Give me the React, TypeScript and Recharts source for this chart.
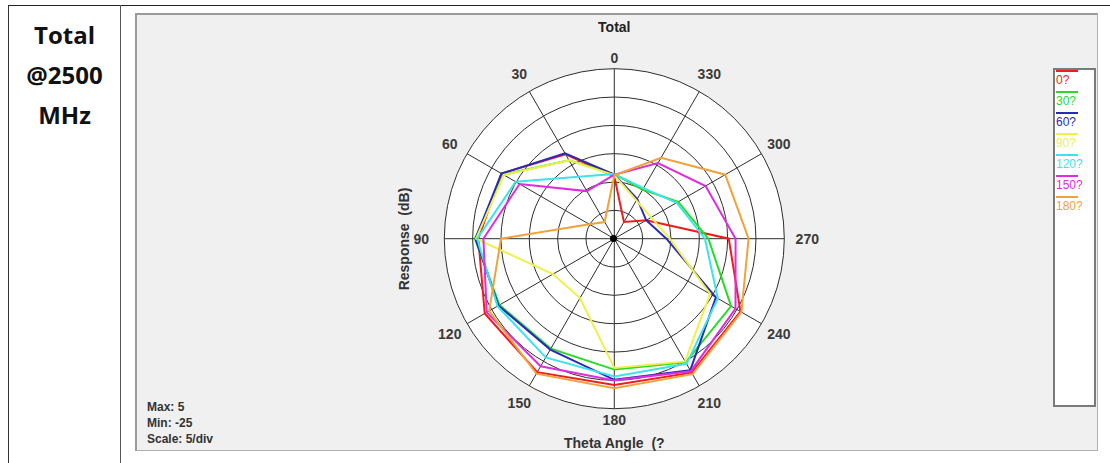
import React from "react";
import { RadarChart, Radar, PolarGrid, PolarAngleAxis, PolarRadiusAxis, Legend } from "recharts";

// theta angles, counter-clockwise from the top
const thetaLabels = ["0", "30", "60", "90", "120", "150", "180", "210", "240", "270", "300", "330"];

// one cut per phi angle, dB
const phi0 = [-14.0, -7.8, -2.0, -1.0, 1.4, 2.2, 0.8, 2.3, 0.7, -4.8, -18.5, -21.6];
const phi30 = [-13.6, -9.0, -2.4, -0.4, -1.6, -2.6, -1.9, 0.2, -1.2, -8.4, -12.0, -15.0];
const phi60 = [-13.7, -7.6, -2.0, -0.5, -1.4, -2.4, -0.1, 1.8, -4.3, -15.8, -18.5, -16.9];
const phi90 = [-13.8, -9.0, -2.5, -0.6, -12.5, -12.9, -2.2, 0.0, -5.5, -15.2, -17.5, -17.2];
const phi120 = [-13.6, -12.4, -4.9, -0.8, -1.2, -0.8, -0.7, 0.5, -3.9, -9.0, -12.3, -14.7];
const phi150 = [-13.7, -15.3, -5.7, -1.9, 1.0, 1.0, 0.0, 2.0, -0.3, -3.6, -6.4, -9.6];
const phi180 = [-13.8, -21.6, -19.9, -5.0, 0.5, 2.5, 1.4, 2.6, 0.9, -1.3, -2.4, -8.5];

const phiNames = ["0?", "30?", "60?", "90?", "120?", "150?", "180?"];
const phiColors = ["#f01c1c", "#26dc26", "#2a2ab8", "#f0f04a", "#3ce4ea", "#dc2edc", "#f0a23c"];
const phiSeries = [phi0, phi30, phi60, phi90, phi120, phi150, phi180];

// radar runs clockwise from the top, theta runs counter-clockwise: 0, 330, 300 ... 30
const order = thetaLabels.map((_, j) => (j === 0 ? 0 : thetaLabels.length - j));
const rows = order.map((i) => {
  const row: Record<string, string | number> = { theta: thetaLabels[i] };
  phiSeries.forEach((s, k) => {
    row[`p${k}`] = s[i];
  });
  return row;
});

const LEFT = 135;
const TOP = 13;
const W = 963;
const H = 438;
const CX = 479.3;
const CY = 225.7;
const R = 170;

const font = "'Liberation Sans', Arial, sans-serif";

// label placed from its own theta value (0 at top, counter-clockwise)
function AngleTick(props: any) {
  const { payload } = props;
  const a = (Number(payload.value) * Math.PI) / 180;
  const ux = -Math.sin(a);
  const uy = -Math.cos(a);
  let r = 190;
  if (Math.abs(ux) < 0.05) r = 181;
  if (Math.abs(uy) < 0.05) r = 193;
  return (
    <text
      x={CX + ux * r}
      y={CY + uy * r}
      textAnchor="middle"
      dominantBaseline="central"
      fontSize={14}
      fontWeight="bold"
      fontFamily={font}
      fill="#3a3a3a"
    >
      {payload.value}
    </text>
  );
}

function PhiLegend() {
  return (
    <div style={{ width: 43, height: 339, background: "#fff", border: "2px solid #7a7a7a", boxSizing: "border-box", position: "relative" }}>
      {phiNames.map((n, i) => (
        <div key={n} style={{ position: "absolute", left: 1, top: 21 * i }}>
          <div style={{ height: 2, width: 22, background: phiColors[i] }} />
          <div style={{ color: phiColors[i], fontSize: 12, lineHeight: "13px", fontFamily: font, marginTop: 2 }}>{n}</div>
        </div>
      ))}
    </div>
  );
}

const abs = (o: React.CSSProperties): React.CSSProperties => ({ position: "absolute", ...o });

export default function App() {
  return (
    <div style={abs({ left: 0, top: 0, width: 1110, height: 463, background: "#fff", overflow: "hidden" })}>
      {/* table lines */}
      <div style={abs({ left: 8, top: 5, width: 1102, height: 1, background: "#222" })} />
      <div style={abs({ left: 8, top: 5, width: 1, height: 458, background: "#333" })} />
      <div style={abs({ left: 120, top: 5, width: 1, height: 458, background: "#555" })} />

      {["Total", "@2500", "MHz"].map((t, i) => (
        <div
          key={t}
          style={abs({ left: 9, width: 111, top: 19 + 40 * i, textAlign: "center", fontFamily: "'Open Sans', sans-serif", fontWeight: 700, fontSize: 24, lineHeight: "32px", color: "#111" })}
        >
          {t}
        </div>
      ))}

      {/* chart panel */}
      <div style={abs({ left: LEFT, top: TOP, width: W, height: H, background: "#f0f0f0", boxSizing: "border-box", borderTop: "2px solid #9a9a9a", borderLeft: "2px solid #9a9a9a", borderRight: "1px solid #b0b0b0", borderBottom: "1px solid #b0b0b0" })} />
      <div style={abs({ left: LEFT + CX - R, top: TOP + CY - R, width: 2 * R, height: 2 * R, borderRadius: "50%", background: "#fff" })} />

      <div style={abs({ left: LEFT, top: TOP, width: W, height: H })}>
        <RadarChart
          width={W}
          height={H}
          data={rows}
          cx={CX}
          cy={CY}
          outerRadius={R}
          margin={{ top: 0, right: 0, bottom: 0, left: 0 }}
        >
          <PolarGrid gridType="circle" stroke="#2e2e2e" strokeWidth={1} />
          <PolarAngleAxis dataKey="theta" tickLine={false} tickSize={12} axisLine={false} tick={<AngleTick />} />
          <PolarRadiusAxis type="number" domain={[-25, 5]} tickCount={7} tick={false} axisLine={false} />
          {phiSeries.map((_, k) => (
            <Radar
              key={k}
              name={phiNames[k]}
              dataKey={`p${k}`}
              stroke={phiColors[k]}
              strokeWidth={2}
              fill="none"
              fillOpacity={0}
              dot={false}
              isAnimationActive={false}
            />
          ))}
          <Legend content={<PhiLegend />} wrapperStyle={{ left: 918, top: 55, width: 43, height: 339 }} />
        </RadarChart>
      </div>

      <div style={abs({ left: LEFT + CX - 4, top: TOP + CY - 4, width: 7, height: 7, borderRadius: "50%", background: "#000" })} />

      {/* texts */}
      <div style={abs({ left: LEFT + CX - 60, width: 120, top: 18, textAlign: "center", fontFamily: font, fontWeight: 700, fontSize: 14, lineHeight: "18px", color: "#222" })}>Total</div>
      <div style={abs({ left: 404 - 70, top: 239 - 9, width: 140, textAlign: "center", transform: "rotate(-90deg)", fontFamily: font, fontWeight: 700, fontSize: 14, lineHeight: "18px", color: "#333", whiteSpace: "pre" })}>
        {"Response  (dB)"}
      </div>
      <div style={abs({ left: LEFT + CX - 80, width: 160, top: 434, textAlign: "center", fontFamily: font, fontWeight: 700, fontSize: 14, lineHeight: "18px", color: "#333", whiteSpace: "pre" })}>
        {"Theta Angle  (?"}
      </div>
      {["Max: 5", "Min: -25", "Scale: 5/div"].map((t, i) => (
        <div key={t} style={abs({ left: 147, top: 399 + 16 * i, fontFamily: font, fontWeight: 700, fontSize: 12, lineHeight: "16px", color: "#333" })}>
          {t}
        </div>
      ))}
    </div>
  );
}
